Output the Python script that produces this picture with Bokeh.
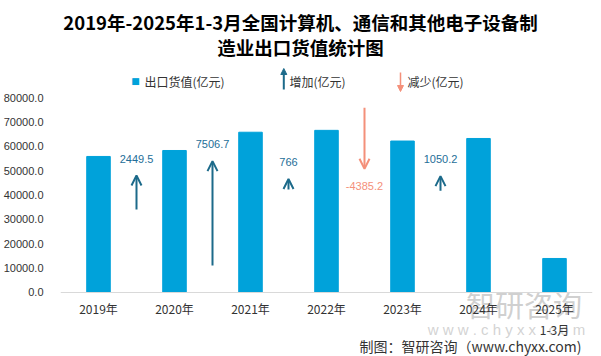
from bokeh.plotting import figure
from bokeh.models import (ColumnDataSource, FactorRange, Range1d, FixedTicker,
                          NumeralTickFormatter, Label, LabelSet, Arrow, OpenHead, NormalHead)
from bokeh.core.properties import value
from bokeh.embed import file_html
from bokeh.resources import INLINE

# ---- data ----
years = ["2019年", "2020年", "2021年", "2022年", "2023年", "2024年", "2025年\n1-3月"]
exports = [55900.0, 58349.5, 65856.2, 66622.2, 62237.0, 63287.2, 13980.0]
changes = [2449.5, 7506.7, 766.0, -4385.2, 1050.2]
change_labels = ["2449.5", "7506.7", "766", "-4385.2", "1050.2"]
arrow_base = [5960.0, 1940.0, 7400.0, 13280.0, 7320.0]   # secondary-axis base of each arrow
y_ticks = [0, 10000, 20000, 30000, 40000, 50000, 60000, 70000, 80000]

BAR = "#00A2DA"
UP = "#1C6A8A"
UP_TXT = "#246E98"
DOWN = "#F4907A"
CJK = "Noto Sans CJK SC"

# layout: frame spans the full canvas height; 0..80000 occupies ~195px
Y0, Y1 = -26297, 119980
SEC = 14000 / 80000

p = figure(x_range=FactorRange(*years), y_range=Range1d(Y0, Y1),
           width=601, height=356, output_backend="svg", toolbar_location=None,
           min_border_left=60, min_border_right=9, min_border_top=0, min_border_bottom=0)
p.extra_y_ranges = {"chg": Range1d(Y0 * SEC, Y1 * SEC)}
p.outline_line_color = None
p.xgrid.grid_line_color = None
p.ygrid.grid_line_color = None
p.background_fill_color = "white"
p.border_fill_color = "white"

p.vbar(x=years, top=exports, width=0.31, color=BAR)

# axes
p.yaxis.ticker = FixedTicker(ticks=y_ticks)
p.yaxis.formatter = NumeralTickFormatter(format="0.0")
p.yaxis.axis_line_color = None
p.yaxis.major_tick_line_color = None
p.yaxis.minor_tick_line_color = None
p.yaxis.major_label_standoff = 11
p.yaxis.major_label_text_font = "Liberation Sans"
p.yaxis.major_label_text_font_size = "11px"
p.yaxis.major_label_text_color = "#333333"

p.xaxis.fixed_location = 0
p.xaxis.axis_line_color = "#D9D9D9"
p.xaxis.major_tick_line_color = None
p.xaxis.minor_tick_line_color = None
p.xaxis.major_label_standoff = 2
p.xaxis.major_label_text_font = CJK
p.xaxis.major_label_text_font_size = "12px"
p.xaxis.major_label_text_color = "#333333"

# change arrows
ups = [i for i, c in enumerate(changes) if c > 0]
downs = [i for i, c in enumerate(changes) if c < 0]

def src(idx):
    return ColumnDataSource(dict(
        x=[i + 1.0 for i in idx],
        y0=[arrow_base[i] for i in idx],
        y1=[arrow_base[i] + changes[i] for i in idx],
        t=[change_labels[i] for i in idx]))

su, sd = src(ups), src(downs)
p.add_layout(Arrow(source=su, x_start="x", y_start="y0", x_end="x", y_end="y1",
                   y_range_name="chg", line_color=UP, line_width=2,
                   end=OpenHead(size=10, line_color=UP, line_width=2)))
p.add_layout(Arrow(source=sd, x_start="x", y_start="y0", x_end="x", y_end="y1",
                   y_range_name="chg", line_color=DOWN, line_width=2,
                   end=OpenHead(size=10, line_color=DOWN, line_width=2)))
p.add_layout(LabelSet(source=su, x="x", y="y1", text="t", y_range_name="chg",
                      y_offset=17, text_align="center", text_baseline="middle",
                      text_font=value("Liberation Sans"), text_font_size="11px", text_color=UP_TXT))
p.add_layout(LabelSet(source=sd, x="x", y="y1", text="t", y_range_name="chg",
                      y_offset=-17, text_align="center", text_baseline="middle",
                      text_font=value("Liberation Sans"), text_font_size="11px", text_color=DOWN))

# title (frame-relative screen units; frame bottom = canvas bottom)
for txt, yy in [("2019年-2025年1-3月全国计算机、通信和其他电子设备制", 334.5),
                ("造业出口货值统计图", 309.5)]:
    p.add_layout(Label(x=240, y=yy, x_units="screen", y_units="screen", text=txt,
                       text_align="center", text_baseline="middle", text_font=CJK,
                       text_font_size="18.5px", text_font_style="bold", text_color="#000000"))

# legend
p.add_layout(Label(x=75, y=275.3, x_units="screen", y_units="screen", text="■",
                   text_align="center", text_baseline="middle", text_font="DejaVu Sans",
                   text_font_size="9px", text_color=BAR))
for txt, xx in [("出口货值(亿元)", 84), ("增加(亿元)", 229), ("减少(亿元)", 347)]:
    p.add_layout(Label(x=xx, y=275.3, x_units="screen", y_units="screen", text=txt,
                       text_align="left", text_baseline="middle", text_font=CJK,
                       text_font_size="12px", text_color="#333333"))
p.add_layout(Arrow(x_start=223.3, y_start=267, x_end=223.3, y_end=288,
                   start_units="screen", end_units="screen", line_color=UP, line_width=2,
                   end=NormalHead(size=6, fill_color=UP, line_color=UP, line_width=1)))
p.add_layout(Arrow(x_start=340, y_start=284, x_end=340, y_end=265,
                   start_units="screen", end_units="screen", line_color=DOWN, line_width=1.5,
                   end=NormalHead(size=6, fill_color=DOWN, line_color=DOWN, line_width=1)))

# watermark
p.add_layout(Label(x=463.5, y=53, x_units="screen", y_units="screen", text="智研咨询",
                   text_align="center", text_baseline="middle", text_font=CJK,
                   text_font_size="29px", text_color="#C4C4C4", text_alpha=0.8, level="underlay"))
p.add_layout(Label(x=446, y=27, x_units="screen", y_units="screen",
                   text="w w w . c h y x x . c o m", text_align="center", text_baseline="middle",
                   text_font="Liberation Sans", text_font_size="15px", text_color="#C8C8C8",
                   text_alpha=0.8, level="underlay"))

# footer
p.add_layout(Label(x=521, y=11, x_units="screen", y_units="screen",
                   text="制图：智研咨询（www.chyxx.com)", text_align="right", text_baseline="middle",
                   text_font=CJK, text_font_size="14px", text_color="#333333"))

open("out.html", "w").write(file_html(p, INLINE))
